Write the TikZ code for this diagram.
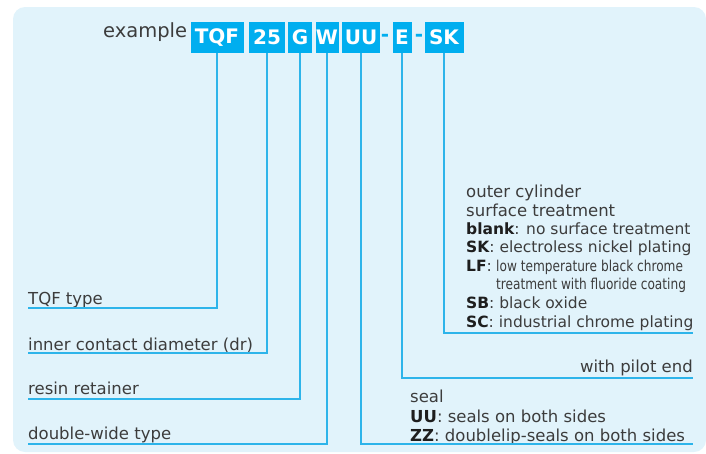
\documentclass[tikz,border=0pt]{standalone}
\usepackage{fontspec}
\setmainfont{DejaVu Sans}
\definecolor{bgc}{HTML}{E1F3FB}
\definecolor{cy}{HTML}{00AEEF}
\definecolor{ln}{HTML}{2DB4EA}
\definecolor{tx}{HTML}{3C3C3C}
\definecolor{tb}{HTML}{1E1E1E}
\begin{document}
\begin{tikzpicture}[x=1pt,y=-1pt,
 codebox/.style={fill=cy, text=white, font=\fontsize{20}{20}\selectfont\bfseries, inner sep=0pt, minimum height=31pt},
 dashtxt/.style={text=cy, font=\fontsize{20}{20}\selectfont\bfseries, inner sep=0pt},
 lbl/.style={anchor=base west, text=tx, font=\fontsize{16.5}{19}\selectfont, inner sep=0pt},
 lbls/.style={anchor=base west, text=tx, font=\fontsize{15.5}{18}\selectfont, inner sep=0pt},
 lblr/.style={anchor=base east, text=tx, font=\fontsize{16.5}{19}\selectfont, inner sep=0pt},
 conn/.style={draw=ln, line width=2pt}
]
\useasboundingbox (0,0) rectangle (706,453);
\fill[bgc, rounded corners=12pt] (13,7) rectangle (706,452);

\node[anchor=base west, text=tx, font=\fontsize{19.5}{20}\selectfont, inner sep=0pt] (ex) at (103,37) {example};
\node[codebox, minimum width=53pt] (tqf) at (217,37.5) {TQF};
\node[codebox, minimum width=36pt] (n25) at (267,37.5) {25};
\node[codebox, minimum width=24pt] (g) at (300,37.5) {G};
\node[codebox, minimum width=23pt] (w) at (327,37.5) {W};
\node[codebox, minimum width=38pt] (uu) at (361,37.5) {UU};
\node[dashtxt] (d1) at (385,37.5) {-};
\node[codebox, minimum width=19pt] (e) at (402,37.5) {E};
\node[dashtxt] (d2) at (419,37.5) {-};
\node[codebox, minimum width=39pt] (sk) at (444,37.5) {SK};

% left labels
\node[lbl] (l1) at (28,304) {TQF type};
\node[lbl] (l2) at (28,350) {inner contact diameter (dr)};
\node[lbl] (l3) at (28,394) {resin retainer};
\node[lbl] (l4) at (28,439) {double-wide type};
\coordinate (c1) at (28,308);
\coordinate (c2) at (28,353);
\coordinate (c3) at (28,399);
\coordinate (c4) at (28,444);
\draw[conn] (tqf.south) |- (c1);
\draw[conn] (n25.south) |- (c2);
\draw[conn] (g.south) |- (c3);
\draw[conn] (w.south) |- (c4);

% right labels
\node[lbl] (r1) at (466,197) {outer cylinder};
\node[lbl] (r2) at (466,216) {surface treatment};
\node[lbls] (r3) at (466,234) {\textcolor{tb}{\bfseries blank}: no surface treatment};
\node[lbls] (r4) at (466,252) {\textcolor{tb}{\bfseries SK}: electroless nickel plating};
\node[lbls] (r5) at (466,271) {\textcolor{tb}{\bfseries LF}:};
\node[anchor=base west, text=tx, inner sep=0pt] (r5b) at (496,271) {\scalebox{0.81}[1]{\fontsize{15}{17}\selectfont low temperature black chrome}};
\node[anchor=base west, text=tx, inner sep=0pt] (r6) at (496,289) {\scalebox{0.81}[1]{\fontsize{15}{17}\selectfont treatment with fluoride coating}};
\node[lbls] (r7) at (466,308) {\textcolor{tb}{\bfseries SB}: black oxide};
\node[lbls] (r8) at (466,327) {\textcolor{tb}{\bfseries SC}: industrial chrome plating};
\coordinate (c7) at (693,333);
\draw[conn] (sk.south) |- (c7);

\node[lblr] (p1) at (693,372) {with pilot end};
\coordinate (c6) at (693,378);
\draw[conn] (e.south) |- (c6);

\node[lbl] (s1) at (410,402) {seal};
\node[lbl] (s2) at (410,422) {\textcolor{tb}{\bfseries UU}: seals on both sides};
\node[lbl] (s3) at (410,441) {\textcolor{tb}{\bfseries ZZ}: doublelip-seals on both sides};
\coordinate (c5) at (693,444);
\draw[conn] (uu.south) |- (c5);
\end{tikzpicture}
\end{document}
